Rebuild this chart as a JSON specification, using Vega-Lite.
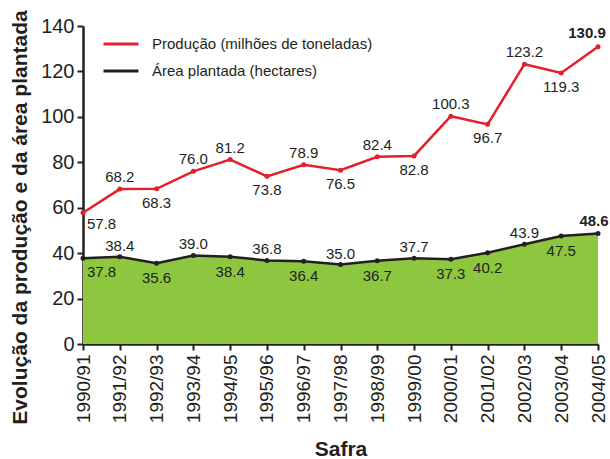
{
  "$schema": "https://vega.github.io/schema/vega-lite/v6.json",
  "width": 515,
  "height": 318,
  "autosize": "none",
  "padding": {"left": 83, "top": 26, "right": 12, "bottom": 115},
  "background": "white",
  "config": {
    "font": "Liberation Sans",
    "view": {"stroke": null},
    "axis": {
      "domainColor": "#231f20", "domainWidth": 2.5, "tickColor": "#231f20", "tickWidth": 2, "tickSize": 6,
      "labelColor": "#231f20", "titleColor": "#231f20", "grid": false, "labelFont": "Liberation Sans", "titleFont": "Liberation Sans"
    }
  },
  "data": {"values": [
    {"safra": "1990/91", "producao": 57.8, "area": 37.8},
    {"safra": "1991/92", "producao": 68.2, "area": 38.4},
    {"safra": "1992/93", "producao": 68.3, "area": 35.6},
    {"safra": "1993/94", "producao": 76.0, "area": 39.0},
    {"safra": "1994/95", "producao": 81.2, "area": 38.4},
    {"safra": "1995/96", "producao": 73.8, "area": 36.8},
    {"safra": "1996/97", "producao": 78.9, "area": 36.4},
    {"safra": "1997/98", "producao": 76.5, "area": 35.0},
    {"safra": "1998/99", "producao": 82.4, "area": 36.7},
    {"safra": "1999/00", "producao": 82.8, "area": 37.7},
    {"safra": "2000/01", "producao": 100.3, "area": 37.3},
    {"safra": "2001/02", "producao": 96.7, "area": 40.2},
    {"safra": "2002/03", "producao": 123.2, "area": 43.9},
    {"safra": "2003/04", "producao": 119.3, "area": 47.5},
    {"safra": "2004/05", "producao": 130.9, "area": 48.6}
  ]},
  "encoding": {
    "x": {"field": "safra", "type": "ordinal", "sort": null, "scale": {"padding": 0},
      "axis": {"title": "Safra", "labelAngle": -90, "labelFontSize": 19, "labelPadding": 4, "titleFontSize": 21, "titleFontWeight": "bold", "titleY": 111, "titleBaseline": "alphabetic"}}
  },
  "layer": [
    {"mark": {"type": "area", "color": "#8dc63f", "opacity": 1},
     "encoding": {"y": {"field": "area", "type": "quantitative", "scale": {"domain": [0, 140], "nice": false},
       "axis": {"values": [0, 20, 40, 60, 80, 100, 120, 140], "title": "Evolução da produção e da área plantada", "labelFontSize": 20, "labelPadding": 3,
         "titleFontSize": 21, "titleFontWeight": "bold", "titleX": -63, "titleY": 191, "titleAlign": "center", "titleBaseline": "middle"}}}},
    {"transform": [{"fold": ["producao", "area"], "as": ["serie", "valor"]}],
     "mark": {"type": "line", "strokeWidth": 2.5},
     "encoding": {
       "y": {"field": "valor", "type": "quantitative"},
       "color": {"field": "serie", "type": "nominal", "sort": null,
         "scale": {"domain": ["producao", "area"], "range": ["#e3212b", "#231f20"]},
         "legend": {"title": null, "orient": "none", "legendX": 19, "legendY": -1, "symbolType": "stroke", "symbolSize": 1225, "symbolStrokeWidth": 3,
           "labelFontSize": 15, "labelColor": "#231f20", "labelOffset": 12, "rowPadding": -1, "labelLimit": 0,
           "labelExpr": "datum.label == 'producao' ? 'Produção (milhões de toneladas)' : 'Área plantada (hectares)'"}}
     }},
    {"mark": {"type": "point", "filled": true, "size": 25, "color": "#e3212b", "opacity": 1},
     "encoding": {"y": {"field": "producao", "type": "quantitative"}}},
    {"mark": {"type": "point", "filled": true, "size": 25, "color": "#231f20", "opacity": 1},
     "encoding": {"y": {"field": "area", "type": "quantitative"}}},
    {"transform": [{"filter": {"field": "safra", "oneOf": ["1991/92", "1993/94", "1994/95", "1996/97", "1998/99", "2000/01", "2002/03"]}}],
     "mark": {"type": "text", "fontSize": 15, "color": "#231f20", "dy": -12, "baseline": "middle"},
     "encoding": {"y": {"field": "producao", "type": "quantitative"}, "text": {"field": "producao", "type": "quantitative", "format": ".1f"}}},
    {"transform": [{"filter": {"field": "safra", "oneOf": ["1992/93", "1995/96", "1997/98", "1999/00", "2001/02", "2003/04"]}}],
     "mark": {"type": "text", "fontSize": 15, "color": "#231f20", "dy": 14, "baseline": "middle"},
     "encoding": {"y": {"field": "producao", "type": "quantitative"}, "text": {"field": "producao", "type": "quantitative", "format": ".1f"}}},
    {"transform": [{"filter": {"field": "safra", "equal": "1990/91"}}],
     "mark": {"type": "text", "fontSize": 15, "color": "#231f20", "dy": 11, "dx": 4, "align": "left", "baseline": "middle"},
     "encoding": {"y": {"field": "producao", "type": "quantitative"}, "text": {"field": "producao", "type": "quantitative", "format": ".1f"}}},
    {"transform": [{"filter": {"field": "safra", "equal": "2004/05"}}],
     "mark": {"type": "text", "fontSize": 15, "fontWeight": "bold", "color": "#231f20", "dy": -14, "dx": -11, "baseline": "middle"},
     "encoding": {"y": {"field": "producao", "type": "quantitative"}, "text": {"field": "producao", "type": "quantitative", "format": ".1f"}}},
    {"transform": [{"filter": {"field": "safra", "oneOf": ["1991/92", "1993/94", "1995/96", "1997/98", "1999/00", "2002/03"]}}],
     "mark": {"type": "text", "fontSize": 15, "color": "#231f20", "dy": -11, "baseline": "middle"},
     "encoding": {"y": {"field": "area", "type": "quantitative"}, "text": {"field": "area", "type": "quantitative", "format": ".1f"}}},
    {"transform": [{"filter": {"field": "safra", "oneOf": ["1992/93", "1994/95", "1996/97", "1998/99", "2000/01", "2001/02", "2003/04"]}}],
     "mark": {"type": "text", "fontSize": 15, "color": "#231f20", "dy": 15, "baseline": "middle"},
     "encoding": {"y": {"field": "area", "type": "quantitative"}, "text": {"field": "area", "type": "quantitative", "format": ".1f"}}},
    {"transform": [{"filter": {"field": "safra", "equal": "1990/91"}}],
     "mark": {"type": "text", "fontSize": 15, "color": "#231f20", "dy": 14, "dx": 4, "align": "left", "baseline": "middle"},
     "encoding": {"y": {"field": "area", "type": "quantitative"}, "text": {"field": "area", "type": "quantitative", "format": ".1f"}}},
    {"transform": [{"filter": {"field": "safra", "equal": "2004/05"}}],
     "mark": {"type": "text", "fontSize": 15, "fontWeight": "bold", "color": "#231f20", "dy": -13, "dx": -4, "baseline": "middle"},
     "encoding": {"y": {"field": "area", "type": "quantitative"}, "text": {"field": "area", "type": "quantitative", "format": ".1f"}}}
  ]
}
